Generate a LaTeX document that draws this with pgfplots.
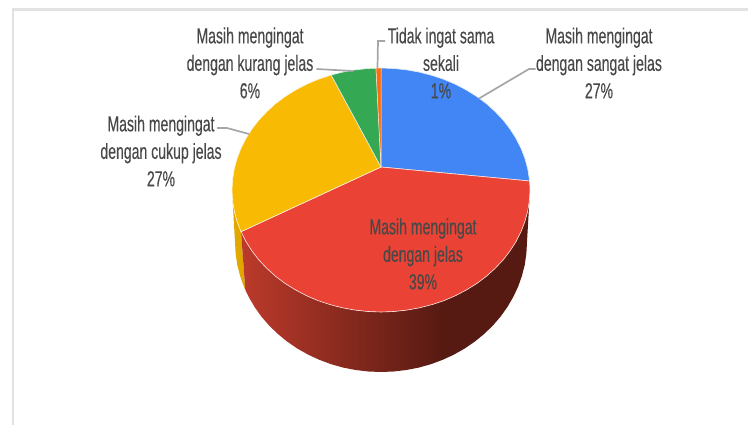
\documentclass[border=0pt]{standalone}
\usepackage{pgfplots}
\pgfplotsset{compat=1.18}
\usepackage{fontspec}
\setmainfont[FakeStretch=0.645,FakeBold=0.25]{Liberation Sans}
\definecolor{cblue}{HTML}{4285F4}
\definecolor{cred}{HTML}{EA4335}
\definecolor{cyel}{HTML}{F9BA03}
\definecolor{cgre}{HTML}{34A853}
\definecolor{cora}{HTML}{FA6D0F}
\definecolor{ywall}{HTML}{E0A800}
\definecolor{wl}{HTML}{BC3A2B}
\definecolor{wd}{HTML}{561A12}
\definecolor{frameg}{HTML}{E2E2E2}
\definecolor{leader}{HTML}{A6A6A6}
\definecolor{txt}{HTML}{484848}
\pgfdeclarehorizontalshading{redwall}{100bp}{color(0bp)=(wl); color(25bp)=(wl); color(60bp)=(wd); color(100bp)=(wd)}
\begin{document}
\begin{tikzpicture}
\begin{axis}[
  scale only axis, width=748pt, height=425pt,
  xmin=0, xmax=748, ymin=0, ymax=425, y dir=reverse,
  hide axis,
]
% full extent of the picture
\addplot[draw=none] coordinates {(0,0)(748,425)};
% frame
\addplot[frameg, line width=2.5pt] coordinates {(13,430)(13,9.5)(750,9.5)};
% yellow wall
\addplot[fill=ywall, draw=none] coordinates {(232,190)(232.6,200.6)(234.3,211.2)(237.1,221.6)(241,231.7)(245.3,289.8)(243.8,286.5)(240,275.6)(237.2,264.6)(235.6,253.3)(235,242)} -- cycle;
% red wall
\addplot[shade, shading=redwall, draw=none] coordinates {(241,231.7)(246,241.6)(252,251)(258.9,260)(266.9,268.4)(275.6,276.3)(285.2,283.5)(295.5,289.9)(306.5,295.7)(318,300.6)(330,304.6)(342.4,307.8)(355.1,310.1)(368,311.5)(381,312)(394,311.5)(406.9,310.1)(419.6,307.8)(432,304.6)(444,300.6)(455.5,295.7)(466.5,289.9)(476.8,283.5)(486.4,276.3)(495.1,268.4)(503.1,260)(510,251)(516,241.6)(521,231.7)(524.9,221.6)(527.7,211.2)(529.4,200.6)(530,190)(527,242)(526.4,253.3)(524.8,264.6)(522,275.6)(518.2,286.5)(513.3,296.9)(507.4,307)(500.6,316.6)(492.8,325.6)(484.2,333.9)(474.8,341.6)(464.7,348.5)(454,354.6)(442.7,359.8)(430.9,364.2)(418.8,367.6)(406.4,370)(393.7,371.5)(381,372)(368.3,371.5)(355.6,370)(343.2,367.6)(331.1,364.2)(319.3,359.8)(308,354.6)(297.3,348.5)(287.2,341.6)(277.8,333.9)(269.2,325.6)(261.4,316.6)(254.6,307)(248.7,296.9)(245.3,289.8)} -- cycle;
% top slices
\addplot[fill=cblue, draw=white!85!cblue, line width=0.6pt] coordinates {(381,167)(381,68)(394,68.5)(406.9,69.9)(419.6,72.2)(432,75.4)(444,79.4)(455.5,84.3)(466.5,90.1)(476.8,96.5)(486.4,103.7)(495.1,111.6)(503.1,120)(510,129)(516,138.4)(521,148.3)(524.9,158.4)(527.7,168.8)(529.4,179.4)(529.6,181)} -- cycle;
\addplot[fill=cred, draw=white!85!cred, line width=0.6pt] coordinates {(381,167)(529.6,181)(530,190)(529.4,200.6)(527.7,211.2)(524.9,221.6)(521,231.7)(516,241.6)(510,251)(503.1,260)(495.1,268.4)(486.4,276.3)(476.8,283.5)(466.5,289.9)(455.5,295.7)(444,300.6)(432,304.6)(419.6,307.8)(406.9,310.1)(394,311.5)(381,312)(368,311.5)(355.1,310.1)(342.4,307.8)(330,304.6)(318,300.6)(306.5,295.7)(295.5,289.9)(285.2,283.5)(275.6,276.3)(266.9,268.4)(258.9,260)(252,251)(246,241.6)(241,231.7)} -- cycle;
\addplot[fill=cyel, draw=white!85!cyel, line width=0.6pt] coordinates {(381,167)(241,231.7)(237.1,221.6)(234.3,211.2)(232.6,200.6)(232,190)(232.6,179.4)(234.3,168.8)(237.1,158.4)(241,148.3)(246,138.4)(252,129)(258.9,120)(266.9,111.6)(275.6,103.7)(285.2,96.5)(295.5,90.1)(306.5,84.3)(318,79.4)(330,75.4)(331.2,75)} -- cycle;
\addplot[fill=cgre, draw=white!85!cgre, line width=0.6pt] coordinates {(381,167)(331.2,75)(342.4,72.2)(355.1,69.9)(368,68.5)(376,68.2)} -- cycle;
\addplot[fill=cora, draw=white!85!cora, line width=0.4pt] coordinates {(381,167)(376,68.2)(381,68)} -- cycle;
% leaders
\addplot[leader, line width=1.7pt] coordinates {(479,98.5)(529,69)(535.5,69)};
\addplot[leader, line width=1.7pt] coordinates {(377.5,68)(378,41)(385,41)};
\addplot[leader, line width=1.7pt] coordinates {(316.5,69)(353,71)};
\addplot[leader, line width=1.7pt] coordinates {(217,128)(227,128)(249,134)};
% labels
\begin{scope}[every node/.style={align=center, text=txt, font=\fontsize{21.8}{27.5}\selectfont, inner sep=0pt}]
\node at (axis cs:250,63) {Masih mengingat\\dengan kurang jelas\\6\%};
\node at (axis cs:161,151) {Masih mengingat\\dengan cukup jelas\\27\%};
\node at (axis cs:441,63) {Tidak ingat sama\\sekali\\1\%};
\node at (axis cs:599,63) {Masih mengingat\\dengan sangat jelas\\27\%};
\node at (axis cs:423,254) {Masih mengingat\\dengan jelas\\39\%};
\end{scope}
\end{axis}
\end{tikzpicture}
\end{document}
